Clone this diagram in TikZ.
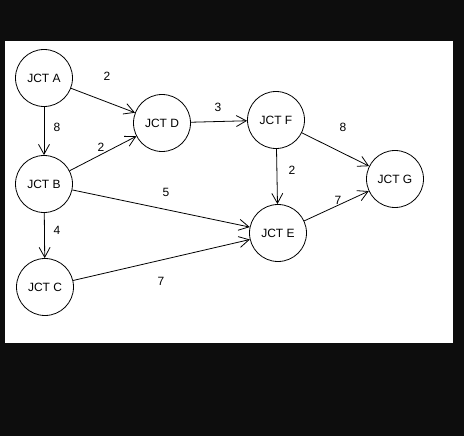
\documentclass[tikz,border=0pt]{standalone}
\usepackage{fontspec}
\setmainfont{Liberation Sans}
\usetikzlibrary{arrows.meta}
\definecolor{bgdark}{HTML}{0D0D0D}
\begin{document}
\begin{tikzpicture}[x=1pt,y=-1pt,
  jct/.style={circle,draw=black,line width=0.8pt,minimum size=57pt,inner sep=0pt,font=\fontsize{12}{14}\selectfont},
  edge/.style={draw=black,line width=0.8pt,-{Straight Barb[length=10pt,width=11pt,line width=0.8pt]}},
  wt/.style={font=\fontsize{12}{14}\selectfont,inner sep=0pt}]
\fill[bgdark] (0,0) rectangle (464,436);
\useasboundingbox (0,0) rectangle (464,436);
\fill[white] (5,41) rectangle (453,343);
\node[jct] (A) at (44,78) {JCT A};
\node[jct] (B) at (44,184) {JCT B};
\node[jct] (C) at (45,287) {JCT C};
\node[jct] (D) at (162,123) {JCT D};
\node[jct] (F) at (276,120) {JCT F};
\node[jct] (E) at (278,233) {JCT E};
\node[jct] (G) at (395,179) {JCT G};
\draw[edge] (A) -- (D);
\draw[edge] (A) -- (B);
\draw[edge] (B) -- (D);
\draw[edge] (B) -- (E);
\draw[edge] (B) -- (C);
\draw[edge] (C) -- (E);
\draw[edge] (D) -- (F);
\draw[edge] (F) -- (E);
\draw[edge] (F) -- (G);
\draw[edge] (E) -- (G);
\node[wt] (wAD) at (107,76) {2};
\node[wt] (wAB) at (57,127) {8};
\node[wt] (wBD) at (101,147) {2};
\node[wt] (wBE) at (166,192) {5};
\node[wt] (wBC) at (57,230) {4};
\node[wt] (wCE) at (161,281) {7};
\node[wt] (wDF) at (218,107) {3};
\node[wt] (wFE) at (292,170) {2};
\node[wt] (wFG) at (343,127) {8};
\node[wt] (wEG) at (338,200) {7};
\end{tikzpicture}
\end{document}
